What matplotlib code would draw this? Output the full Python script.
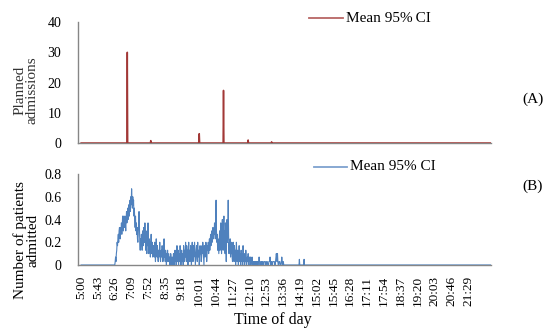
import numpy as np
import matplotlib
matplotlib.use("Agg")
import matplotlib.pyplot as plt
from matplotlib.lines import Line2D

plt.rcParams["font.family"] = ["Liberation Serif", "DejaVu Serif"]

# DATA  (minutes after 5:00, one value per minute)
N_MINUTES = 1049

# (A) planned admissions: spikes, zero everywhere else
planned_minutes = [118, 178, 302, 364, 427, 487]
planned_values  = [30.0, 0.8, 3.1, 17.4, 1.0, 0.4]

# (B) number of patients admitted, minute 85 onwards
admitted_start = 85
admitted_values = [
    0, 0, 0.03, 0.07, 0.03, 0.1, 0.13, 0.2, 0.17, 0.23, 0.27, 0.2, 0.3, 0.33, 0.27, 0.23, 0.33, 0.3, 0.37, 0.27,
    0.33, 0.43, 0.37, 0.3, 0.43, 0.4, 0.33, 0.43, 0.37, 0.3, 0.4, 0.47, 0.37, 0.43, 0.5, 0.4, 0.47, 0.53, 0.43, 0.5,
    0.57, 0.47, 0.6, 0.53, 0.67, 0.57, 0.5, 0.6, 0.53, 0.57, 0.43, 0.5, 0.4, 0.33, 0.43, 0.3, 0.37, 0.27, 0.33, 0.23,
    0.2, 0.27, 0.4, 0.47, 0.33, 0.2, 0.13, 0.23, 0.17, 0.27, 0.2, 0.13, 0.3, 0.23, 0.17, 0.33, 0.27, 0.2, 0.37, 0.23,
    0.13, 0.3, 0.2, 0.1, 0.27, 0.17, 0.37, 0.2, 0.1, 0.23, 0.13, 0.2, 0.07, 0.17, 0.27, 0.1, 0.13, 0.2, 0.07, 0.1,
    0.17, 0.13, 0.07, 0.2, 0.1, 0.03, 0.13, 0.23, 0.1, 0.07, 0.17, 0.1, 0.03, 0.13, 0.07, 0.1, 0.2, 0.07, 0.03, 0.1,
    0.13, 0.07, 0.17, 0.1, 0.03, 0.07, 0.13, 0.23, 0.07, 0.1, 0.03, 0.13, 0.07, 0, 0.1, 0.07, 0.13, 0.03, 0.07, 0.1,
    0.03, 0.07, 0, 0.03, 0.1, 0.07, 0, 0.03, 0.07, 0, 0.03, 0.1, 0.03, 0, 0.07, 0.13, 0.03, 0.1, 0, 0.07,
    0.17, 0.07, 0.03, 0.13, 0, 0.1, 0.07, 0.03, 0.17, 0.1, 0, 0.07, 0.13, 0.03, 0.1, 0.07, 0, 0.17, 0.1, 0.03,
    0.13, 0.07, 0.2, 0.1, 0.03, 0.17, 0.07, 0.13, 0, 0.1, 0.2, 0.07, 0.13, 0.03, 0.1, 0.17, 0.07, 0, 0.13, 0.2,
    0.1, 0.03, 0.17, 0.07, 0.13, 0.2, 0.1, 0, 0.07, 0.13, 0.17, 0.1, 0.03, 0.2, 0.07, 0.13, 0.1, 0, 0.07, 0.17,
    0.1, 0.13, 0.03, 0.07, 0.17, 0.1, 0.2, 0.13, 0.07, 0, 0.17, 0.13, 0.07, 0.1, 0.2, 0.13, 0.03, 0.1, 0.17, 0.13,
    0.2, 0.1, 0.17, 0.23, 0.13, 0.2, 0.27, 0.17, 0.23, 0.3, 0.2, 0.27, 0.33, 0.23, 0.3, 0.27, 0.37, 0.3, 0.23, 0.4,
    0.57, 0.3, 0.2, 0.27, 0.13, 0.23, 0.17, 0.1, 0.2, 0.3, 0.13, 0.27, 0.37, 0.2, 0.1, 0.3, 0.4, 0.23, 0.13, 0.33,
    0.43, 0.2, 0.3, 0.1, 0.37, 0.23, 0.03, 0.27, 0.4, 0.2, 0.3, 0.57, 0.27, 0.1, 0.2, 0.13, 0.23, 0.07, 0.17, 0.1,
    0.2, 0.07, 0.03, 0.13, 0.2, 0.1, 0.03, 0.17, 0.07, 0.13, 0, 0.1, 0.2, 0.07, 0.03, 0.13, 0.1, 0, 0.07, 0.17,
    0.03, 0.1, 0.07, 0, 0.13, 0.03, 0.07, 0.1, 0, 0.17, 0.07, 0.03, 0.1, 0, 0.07, 0.03, 0.13, 0.07, 0, 0.03,
    0.07, 0.03, 0.1, 0.03, 0, 0.07, 0.03, 0.03, 0.07, 0, 0.03, 0.03, 0.07, 0.03, 0, 0.03, 0.03, 0.03, 0, 0.03,
    0.03, 0.03, 0, 0.03, 0.03, 0.03, 0.03, 0, 0.03, 0.03, 0.07, 0.03, 0, 0, 0.03, 0.03, 0.03, 0, 0.03, 0.03,
    0.03, 0, 0, 0.03, 0.03, 0.03, 0.03, 0, 0, 0.03, 0.03, 0.03, 0, 0, 0, 0.03, 0.03, 0.03, 0.07, 0.03,
    0, 0.03, 0.03, 0, 0, 0.03, 0.03, 0.03, 0.03, 0.03, 0, 0, 0.03, 0.07, 0.1, 0.07, 0.03, 0.1, 0.03, 0,
    0, 0.03, 0.03, 0.03, 0, 0, 0, 0.03, 0.07, 0.03, 0, 0.03, 0.03, 0, 0, 0,
]
admitted_blip_minutes = [558, 570]
admitted_blip_values  = [0.05, 0.05]

tick_labels = ["5:00", "5:43", "6:26", "7:09", "7:52", "8:35", "9:18", "10:01",
               "10:44", "11:27", "12:10", "12:53", "13:36", "14:19", "15:02",
               "15:45", "16:28", "17:11", "17:54", "18:37", "19:20", "20:03",
               "20:46", "21:29"]
TICK_STEP = 43

RED  = "#A23836"
BLUE = "#4F81BD"
GREY = "#868686"

# build per-minute series
minutes = np.arange(N_MINUTES)
planned = np.zeros(N_MINUTES)
planned[planned_minutes] = planned_values
admitted = np.zeros(N_MINUTES)
admitted[admitted_start:admitted_start + len(admitted_values)] = admitted_values
admitted[admitted_blip_minutes] = admitted_blip_values

fig = plt.figure(figsize=(5.46, 3.29), dpi=100)
ax_a = fig.add_axes([0.1429, 0.5653, 0.7564, 0.3678])
ax_b = fig.add_axes([0.1429, 0.1945, 0.7564, 0.2766])

for ax in (ax_a, ax_b):
    for s in ("top", "right"):
        ax.spines[s].set_visible(False)
    ax.spines["left"].set_color(GREY)
    ax.spines["bottom"].set_color(GREY)
    ax.spines["left"].set_linewidth(1.0)
    ax.spines["bottom"].set_linewidth(1.0)
    ax.set_xlim(-8, 1048)
    ax.tick_params(length=0, labelsize=10, pad=12)

# (A)
ax_a.plot(minutes, planned, color=RED, lw=1.1, zorder=3)
ax_a.set_ylim(0, 40)
ax_a.set_yticks([0, 10, 20, 30, 40])
ax_a.set_xticks([])

# (B)
ax_b.plot(minutes, admitted, color=BLUE, lw=0.8, zorder=3)
ax_b.set_ylim(0, 0.8)
ax_b.set_yticks([0, 0.2, 0.4, 0.6, 0.8])
ax_b.set_yticklabels(["0", "0.2", "0.4", "0.6", "0.8"])
ax_b.set_xticks(np.arange(len(tick_labels)) * TICK_STEP)
ax_b.set_xticklabels(tick_labels, rotation=90, fontsize=9.5)
ax_b.tick_params(axis="x", pad=8)

# axis titles
fig.text(0.5, 1 - 320 / 329, "Time of day", ha="center", va="center", fontsize=11.5)
fig.text(0.048, 1 - 90 / 329, "Planned\nadmissions", rotation=90,
         ha="center", va="center", fontsize=11, color="#333333", linespacing=0.9)
fig.text(0.048, 1 - 240 / 329, "Number of patients\nadmitted", rotation=90,
         ha="center", va="center", fontsize=11, linespacing=0.9)

# legends
fig.add_artist(Line2D([309 / 546, 343 / 546], [1 - 18 / 329] * 2, color="#B86664", lw=1.3))
fig.text(346 / 546, 1 - 18 / 329, "Mean 95%\u2009CI", ha="left", va="center", fontsize=11)
fig.add_artist(Line2D([314 / 546, 347 / 546], [1 - 167 / 329] * 2, color="#7EA1CF", lw=1.3))
fig.text(350 / 546, 1 - 167 / 329, "Mean 95% CI", ha="left", va="center", fontsize=11)

# panel tags
fig.text(533 / 546, 1 - 99 / 329, "(A)", ha="center", va="center", fontsize=11)
fig.text(533 / 546, 1 - 186 / 329, "(B)", ha="center", va="center", fontsize=11)

fig.savefig("out.png", dpi=100)
